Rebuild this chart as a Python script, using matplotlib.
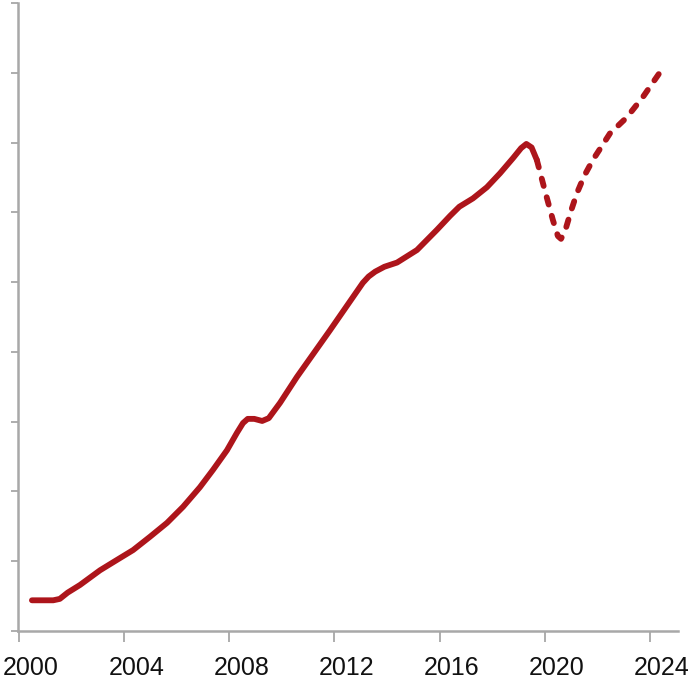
import matplotlib
matplotlib.use("Agg")
import matplotlib.pyplot as plt
import matplotlib.transforms as mtransforms

# Actual (solid) series
years_actual = [2000.49, 2001.30, 2001.55, 2001.85, 2002.32, 2003.08, 2003.73, 2004.34,
                2004.98, 2005.63, 2006.24, 2006.88, 2007.38, 2007.91, 2008.29, 2008.52,
                2008.70, 2008.95, 2009.25, 2009.50, 2009.93, 2010.57, 2011.83, 2013.08,
                2013.30, 2013.55, 2013.90, 2014.38, 2015.14, 2015.90, 2016.40, 2016.75,
                2017.27, 2017.80, 2018.30, 2018.80, 2019.10, 2019.30, 2019.50, 2019.70]
values_actual = [0.44, 0.44, 0.46, 0.55, 0.66, 0.87, 1.02, 1.16,
                 1.35, 1.55, 1.78, 2.06, 2.31, 2.59, 2.84, 2.98,
                 3.04, 3.04, 3.01, 3.05, 3.27, 3.64, 4.31, 4.99,
                 5.08, 5.15, 5.22, 5.28, 5.46, 5.75, 5.95, 6.08,
                 6.20, 6.36, 6.56, 6.78, 6.92, 6.98, 6.93, 6.75]

# Projected (dashed) series
years_proj = [2019.70, 2020.0, 2020.31, 2020.50, 2020.62, 2020.78, 2021.0, 2021.22,
              2021.50, 2021.83, 2022.48, 2023.12, 2023.73, 2024.50]
values_proj = [6.75, 6.32, 5.89, 5.66, 5.62, 5.74, 6.02, 6.27,
               6.52, 6.75, 7.13, 7.36, 7.65, 8.07]

xticks = [2000, 2004, 2008, 2012, 2016, 2020, 2024]
xtick_labels = ["2000", "2004", "2008", "2012", "2016", "2020", "2024"]
yticks = list(range(0, 10))

W = H = 693
fig = plt.figure(figsize=(W / 100, H / 100), dpi=100)
ax = fig.add_axes([18 / W, 1 - 631 / H, 660 / W, 628 / H])

red = "#ad151b"
ax.plot(years_actual, values_actual, color=red, lw=4.2, solid_capstyle="round",
        solid_joinstyle="round")
ax.plot(years_proj, values_proj, color=red, lw=4.2, linestyle=(0, (1.3, 2.0)),
        dash_capstyle="round", dash_joinstyle="round")

ax.set_xlim(1999.96, 2025.07)
ax.set_ylim(0, 9.0)

for s in ["top", "right"]:
    ax.spines[s].set_visible(False)
for s in ["left", "bottom"]:
    ax.spines[s].set_color("#a8a8a8")
    ax.spines[s].set_linewidth(1.8)

ax.set_yticks(yticks)
ax.set_yticklabels([])
ax.tick_params(axis="y", direction="out", length=5, width=1.2, color="#a0a0a0")

ax.set_xticks(xticks)
ax.set_xticklabels(xtick_labels, family=["Liberation Sans", "DejaVu Sans"],
                   fontsize=18, color="#111111")
ax.tick_params(axis="x", direction="out", length=8, width=1.2, color="#a0a0a0", pad=10)
offset = mtransforms.ScaledTranslation(12 / 100, 0, fig.dpi_scale_trans)
for lbl in ax.get_xticklabels():
    lbl.set_transform(lbl.get_transform() + offset)

fig.savefig("out.png", dpi=100, facecolor="white")
